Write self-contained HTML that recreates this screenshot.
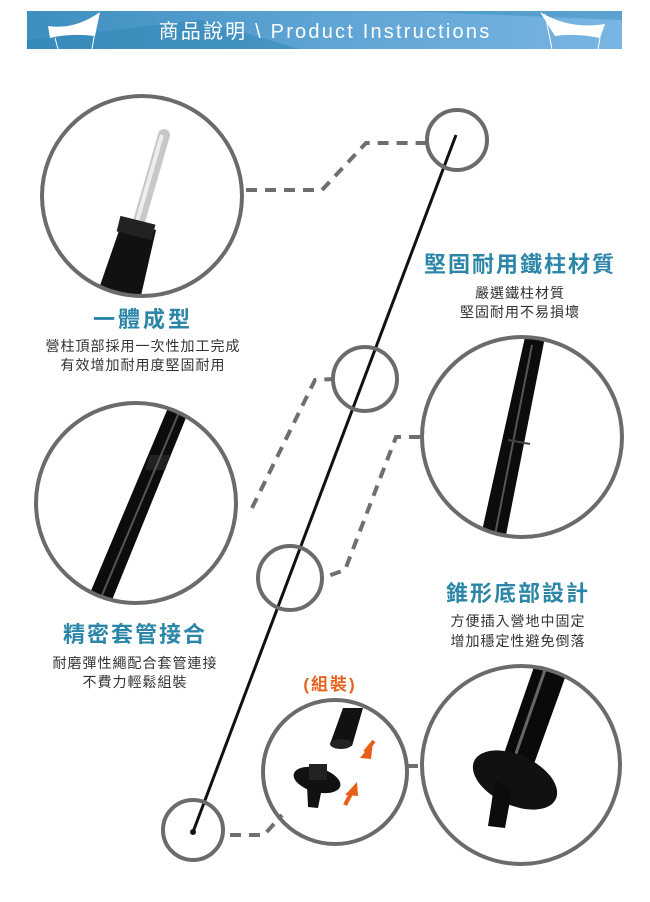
<!DOCTYPE html>
<html><head><meta charset="utf-8"><style>
html,body{margin:0;padding:0;background:#fff;}
body{width:650px;height:902px;overflow:hidden;position:relative;font-family:"Liberation Sans","Noto Sans CJK TC",sans-serif;}
svg{position:absolute;left:0;top:0;}
</style></head><body>
<svg width="650" height="902" viewBox="0 0 650 902" xmlns="http://www.w3.org/2000/svg">
<defs>
<linearGradient id="hb" x1="0" y1="0" x2="1" y2="0">
<stop offset="0" stop-color="#3d8fbf"/><stop offset="0.5" stop-color="#5ea4d4"/><stop offset="1" stop-color="#79b5e2"/>
</linearGradient>
<clipPath id="c1"><circle cx="142" cy="196" r="100"/></clipPath>
<clipPath id="c2"><circle cx="522" cy="437" r="100"/></clipPath>
<clipPath id="c3"><circle cx="136" cy="503" r="100"/></clipPath>
<clipPath id="c4"><circle cx="521" cy="765" r="99"/></clipPath>
</defs>
<rect x="27" y="11" width="595" height="38" fill="url(#hb)"/>
<polygon points="27,40 200,20 300,49 27,49" fill="#2f86b3" opacity="0.5"/>
<polygon points="400,11 622,11 622,20" fill="#2f86b3" opacity="0.4"/>
<path d="M48,26 Q75,30 100,12 L95,36 Q70,33 50,38 Z" fill="#fff"/>
<line x1="55" y1="38" x2="58" y2="49" stroke="#fff"/><line x1="98" y1="14" x2="92" y2="49" stroke="#fff"/>
<path d="M540,12 Q570,30 605,24 L600,38 Q575,33 555,36 Z" fill="#fff"/>
<line x1="545" y1="14" x2="552" y2="49" stroke="#fff"/><line x1="600" y1="38" x2="598" y2="49" stroke="#fff"/>
<text x="325" y="38" text-anchor="middle" fill="#fff" font-size="20" letter-spacing="2.2" font-family="Liberation Sans,Noto Sans CJK TC,sans-serif">商品說明 \ Product Instructions</text>

<g fill="none" stroke="#6f6f6f" stroke-width="4" stroke-dasharray="11,8">
<polyline points="246,190 322,190 366,143 428,143"/>
<polyline points="252,508 315,380 334,379"/>
<polyline points="420,437 396,437 345,570 322,578"/>
<polyline points="230,835 264,835 282,815"/>
<polyline points="407,766 420,766"/>
</g>

<line x1="456" y1="135" x2="193" y2="832" stroke="#111" stroke-width="3"/>
<circle cx="193" cy="832" r="3" fill="#111"/>

<g clip-path="url(#c1)">
<line x1="164" y1="135" x2="138" y2="225" stroke="#c8c8c8" stroke-width="12" stroke-linecap="round"/>
<line x1="162" y1="135" x2="136" y2="225" stroke="#eee" stroke-width="4"/>
<polygon points="122,222 156,230 140,300 95,300" fill="#111"/>
<rect x="118" y="220" width="36" height="16" fill="#222" transform="rotate(14 136 228)"/>
</g>
<g clip-path="url(#c2)">
<polygon points="525,337 545,337 505,540 480,540" fill="#0c0c0c"/>
<line x1="532" y1="345" x2="495" y2="535" stroke="#555" stroke-width="2"/>
<line x1="508" y1="440" x2="530" y2="444" stroke="#444" stroke-width="2"/>
</g>
<g clip-path="url(#c3)">
<polygon points="170,403 192,403 110,605 85,605" fill="#0c0c0c"/>
<polygon points="150,455 170,455 165,470 145,470" fill="#222"/>
<line x1="180" y1="410" x2="100" y2="600" stroke="#555" stroke-width="2"/>
</g>
<g clip-path="url(#c4)">
<polygon points="535,664 570,664 530,775 500,765" fill="#0a0a0a"/>
<line x1="545" y1="670" x2="512" y2="765" stroke="#666" stroke-width="3"/>
<ellipse cx="515" cy="780" rx="45" ry="25" transform="rotate(25 515 780)" fill="#111"/>
<polygon points="495,780 512,790 505,828 488,826" fill="#0c0c0c"/>
</g>

<g transform="translate(0,18)">
<polygon points="343,690 363,690 352,728 330,726" fill="#111"/>
<ellipse cx="341" cy="726" rx="11" ry="5" fill="#222"/>
<ellipse cx="317" cy="762" rx="24" ry="12" transform="rotate(15 317 762)" fill="#111"/>
<rect x="309" y="746" width="18" height="16" fill="#222"/>
<polygon points="307,767 322,770 318,790 308,789" fill="#111"/>
<polygon points="373,724 360,740 371,741" fill="#e85d1a"/>
<line x1="374" y1="723" x2="365" y2="734" stroke="#e85d1a" stroke-width="4"/>
<polygon points="357,764 345,777 358,778" fill="#e85d1a"/>
<line x1="345" y1="787" x2="353" y2="772" stroke="#e85d1a" stroke-width="4"/>
</g>

<g fill="none" stroke="#6b6b6b" stroke-width="4">
<circle cx="142" cy="196" r="100"/>
<circle cx="457" cy="140" r="30"/>
<circle cx="522" cy="437" r="100"/>
<circle cx="365" cy="379" r="32"/>
<circle cx="136" cy="503" r="100"/>
<circle cx="290" cy="578" r="32"/>
<circle cx="335" cy="772" r="72"/>
<circle cx="521" cy="765" r="99"/>
<circle cx="193" cy="830" r="30"/>
</g>

<g font-family="Liberation Sans,Noto Sans CJK TC,sans-serif" text-anchor="middle">
<text x="520" y="272" fill="#2b86a8" font-size="22" font-weight="bold" letter-spacing="2">堅固耐用鐵柱材質</text>
<text x="520" y="298" fill="#333" font-size="14" letter-spacing="1">嚴選鐵柱材質</text>
<text x="520" y="317" fill="#333" font-size="14" letter-spacing="1">堅固耐用不易損壞</text>
<text x="143" y="327" fill="#2b86a8" font-size="22" font-weight="bold" letter-spacing="3">一體成型</text>
<text x="143" y="351" fill="#333" font-size="14" letter-spacing="1">營柱頂部採用一次性加工完成</text>
<text x="143" y="370" fill="#333" font-size="14" letter-spacing="1">有效增加耐用度堅固耐用</text>
<text x="135" y="642" fill="#2b86a8" font-size="22" font-weight="bold" letter-spacing="2">精密套管接合</text>
<text x="135" y="668" fill="#333" font-size="14" letter-spacing="1">耐磨彈性繩配合套管連接</text>
<text x="135" y="687" fill="#333" font-size="14" letter-spacing="1">不費力輕鬆組裝</text>
<text x="518" y="601" fill="#2b86a8" font-size="22" font-weight="bold" letter-spacing="2">錐形底部設計</text>
<text x="518" y="626" fill="#333" font-size="14" letter-spacing="1">方便插入營地中固定</text>
<text x="518" y="646" fill="#333" font-size="14" letter-spacing="1">增加穩定性避免倒落</text>
<text x="330" y="690" fill="#e8621f" font-size="17" font-weight="bold" letter-spacing="2">(組裝)</text>
</g>
</svg>
</body></html>
